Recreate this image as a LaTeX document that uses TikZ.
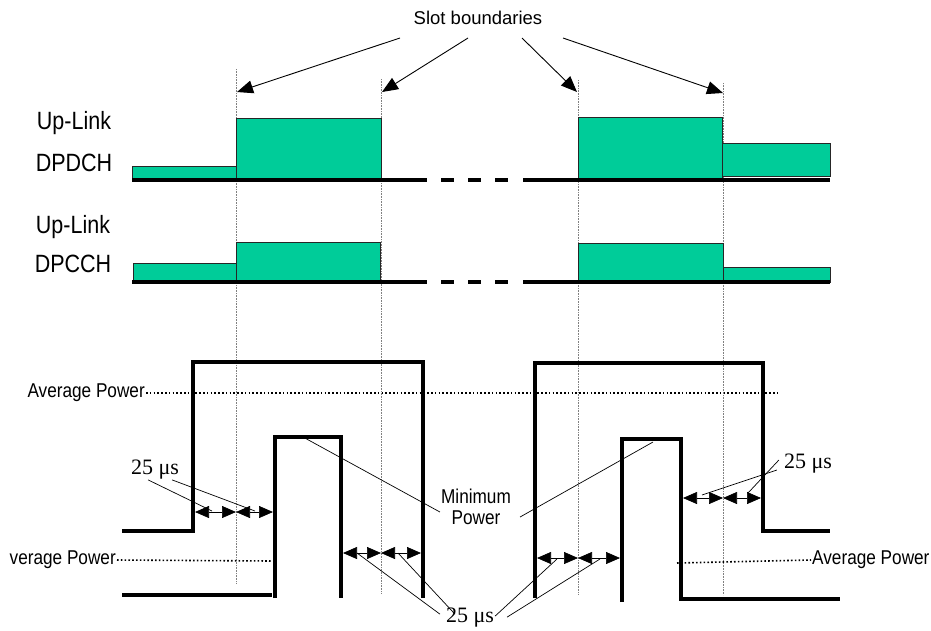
\documentclass[tikz,border=0pt]{standalone}
\usepackage{fontspec}
\setmainfont{Liberation Serif}
\newfontfamily\arialfont{Liberation Sans}
\usetikzlibrary{arrows.meta}
\definecolor{slotgreen}{RGB}{0,204,153}
\newcommand{\narrow}[1]{\scalebox{0.86}[1]{#1}}

\tikzset{
	chlbl/.style={font=\arialfont\fontsize{25}{25}\selectfont,inner sep=0pt},
	slotlbl/.style={font=\arialfont\fontsize{18.5}{18.5}\selectfont,inner sep=0pt},
	pwrlbl/.style={font=\arialfont\fontsize{20}{21}\selectfont,inner sep=1pt,align=center},
	uslbl/.style={font=\fontsize{22}{22}\selectfont,inner sep=0pt},
	bar/.style={fill=slotgreen,draw=black!85,line width=0.8pt},
	baseline/.style={line width=3.5pt},
	sig/.style={line width=4pt},
	slotline/.style={densely dotted,gray,line width=0.6pt},
	avg/.style={line width=1.6pt,dash pattern=on 1.6pt off 2.2pt},
	gap/.style={{Triangle[length=14pt,width=12pt]}-{Triangle[length=14pt,width=12pt]},line width=0.7pt},
	lead/.style={line width=0.7pt},
	slotarrow/.style={-{Triangle[length=16pt,width=13pt]},line width=0.9pt}
}

\begin{document}
\begin{tikzpicture}[x=1pt,y=-1pt]
	\useasboundingbox (0,0) rectangle (931,630);
	\foreach \x/\t/\b in {236/69/583,381/79/593,578/80/595,723/83/595}
		\draw[slotline] (\x,\t) -- (\x,\b);
	\node[slotlbl] (slot) at (478,18) {Slot boundaries};
	\foreach \n/\xs/\xe/\ye in {1/400/237/92,2/468/382/92,3/522/577/92,4/563/723/93} {
		\coordinate (st\n) at (\xs,38);
		\coordinate (sb\n) at (\xe,\ye);
		\draw[slotarrow] (st\n) -- (sb\n);
	}

	\node[chlbl] (uplink1) at (74,123) {\narrow{Up-Link}};
	\node[chlbl] (dpdch) at (74,163) {\narrow{DPDCH}};
	\node[chlbl] (uplink2) at (73,227) {\narrow{Up-Link}};
	\node[chlbl] (dpcch) at (73,264) {\narrow{DPCCH}};

	\draw[bar] (132,166) rectangle (236,180);
	\draw[bar] (236,118) rectangle (381,180);
	\draw[bar] (578,117) rectangle (722,180);
	\draw[bar] (722,143) rectangle (830,176);
	\draw[bar] (133,263) rectangle (236,282);
	\draw[bar] (236,242) rectangle (380,282);
	\draw[bar] (578,243) rectangle (723,282);
	\draw[bar] (723,267) rectangle (830,282);
	\foreach \y in {180,282} {
		\draw[baseline] (132,\y) -- (427,\y);
		\foreach \x in {441,468,495}
			\draw[baseline] (\x,\y) -- ++(13,0);
		\draw[baseline] (523,\y) -- (830,\y);
	}

	\node[pwrlbl,anchor=east] (avgtop) at (146,393) {\narrow{Average Power}};
	\node[pwrlbl,anchor=east] (avgleft) at (117,560) {\narrow{verage Power}};
	\node[pwrlbl,anchor=west] (avgright) at (811,560) {\narrow{Average Power}};
	\draw[avg] (avgtop.east) -- (778,393);
	\draw[avg] (avgleft.east) -- (272,561);
	\draw[avg] (677,563) -- (avgright.west);

	\draw[sig] (122,531) -- (193,531) -- (193,362) -- (423,362) -- (423,598);
	\draw[sig] (122,595) -- (272,595);
	\draw[sig] (275,598) -- (275,437) -- (341,437) -- (341,598);
	\draw[sig] (535,598) -- (535,363) -- (763,363) -- (763,531) -- (830,531);
	\draw[sig] (622,602) -- (622,439) -- (681,439) -- (681,599) -- (840,599);

	\foreach \a/\b/\c/\y in {195/236/273/512,343/381/421/553,537/578/620/558,683/723/761/498} {
		\draw[gap] (\a,\y) -- (\b,\y);
		\draw[gap] (\b,\y) -- (\c,\y);
	}

	\node[pwrlbl] (minpower) at (476,507) {\narrow{Minimum}\\\narrow{Power}};
	\coordinate (mintopl) at (303,437);
	\coordinate (mintopr) at (653,442);
	\draw[lead] (mintopl) -- ([yshift=-5pt]minpower.west);
	\draw[lead] ([xshift=8pt,yshift=-10pt]minpower.east) -- (mintopr);

	\node[uslbl] (usleft) at (155,470) {25 μs};
	\node[uslbl] (usbottom) at (470,618) {25 μs};
	\node[uslbl] (usright) at (808,464) {25 μs};
	\coordinate (gl1) at (212,511);
	\coordinate (gl2) at (255,511);
	\coordinate (gb1) at (357,553);
	\coordinate (gb2) at (398,553);
	\coordinate (gb3) at (557,559);
	\coordinate (gb4) at (600,559);
	\coordinate (gr1) at (702,495);
	\coordinate (gr2) at (748,493);
	\draw[lead] ([xshift=-7pt]usleft.south) -- (gl1);
	\draw[lead] ([xshift=17pt]usleft.south) -- (gl2);
	\draw[lead] ([xshift=-30pt,yshift=-6pt]usbottom.north) -- (gb1);
	\draw[lead] ([xshift=-15pt,yshift=-6pt]usbottom.north) -- (gb2);
	\draw[lead] ([xshift=25pt,yshift=-8pt]usbottom.north) -- (gb3);
	\draw[lead] ([xshift=37pt,yshift=-9pt]usbottom.north) -- (gb4);
	\draw[lead] ([xshift=-7pt,yshift=-6pt]usright.west) -- (gr1);
	\draw[lead] ([xshift=-5pt,yshift=4pt]usright.west) -- (gr2);
\end{tikzpicture}
\end{document}
